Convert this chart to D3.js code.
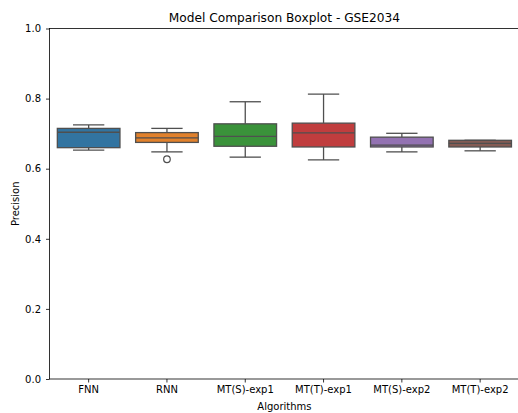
<!DOCTYPE html>
<html>
<head>
<meta charset="utf-8">
<script src="https://cdn.jsdelivr.net/npm/d3@7"></script>
<style>
  body { margin: 0; background: #fff; }
  svg { display: block; font-family: "DejaVu Sans", sans-serif; }
</style>
</head>
<body>
<svg id="chart" width="518" height="413"></svg>
<script>
// Values
const categories = ["FNN", "RNN", "MT(S)-exp1", "MT(T)-exp1", "MT(S)-exp2", "MT(T)-exp2"];
const whiskerLow  = [0.653, 0.648, 0.633, 0.625, 0.648, 0.651];
const q1          = [0.660, 0.675, 0.664, 0.662, 0.662, 0.662];
const medians     = [0.704, 0.688, 0.692, 0.702, 0.667, 0.672];
const q3          = [0.715, 0.703, 0.728, 0.730, 0.690, 0.681];
const whiskerHigh = [0.725, 0.715, 0.791, 0.813, 0.701, 0.681];
const outliers    = [[], [0.627], [], [], [], []];
const colors = ["#3274a1", "#e1812c", "#3a923a", "#c03d3e", "#9372b2", "#845b53"];
const yTicks = [0, 0.2, 0.4, 0.6, 0.8, 1.0];

const width = 518, height = 413;
const margin = { top: 28.5, right: 0, bottom: 34, left: 49.5 };
const lineColor = "#4f4f4f";

const svg = d3.select("#chart");

const x = d3.scaleBand()
  .domain(categories)
  .range([margin.left, margin.left + 6 * 78.3])
  .padding(0);

const y = d3.scaleLinear()
  .domain([0, 1])
  .range([height - margin.bottom, margin.top]);

const boxW = x.bandwidth() * 0.8;
const capW = boxW * 0.5;

// Axes
const xAxis = svg.append("g")
  .attr("transform", `translate(0,${y(0)})`)
  .call(d3.axisBottom(x).tickSize(3.5).tickPadding(3.5));

const yAxis = svg.append("g")
  .attr("transform", `translate(${margin.left},0)`)
  .call(d3.axisLeft(y).tickValues(yTicks).tickFormat(d3.format(".1f")).tickSize(3.5).tickPadding(5));

[xAxis, yAxis].forEach(g => {
  g.select(".domain").remove();
  g.selectAll("text").attr("font-size", "10px").attr("fill", "#000").attr("font-family", "DejaVu Sans");
  g.selectAll("line").attr("stroke", "#000").attr("stroke-width", 0.8);
});

// Spines
const x0 = margin.left, x1 = width + 1;
const yb = y(0), yt = y(1);
svg.append("rect")
  .attr("x", x0).attr("y", yt)
  .attr("width", x1 - x0).attr("height", yb - yt)
  .attr("fill", "none").attr("stroke", "#000").attr("stroke-width", 0.8);

// Boxes
const stats = categories.map((c, i) => ({
  c, lo: whiskerLow[i], q1: q1[i], med: medians[i], q3: q3[i], hi: whiskerHigh[i],
  out: outliers[i], color: colors[i]
}));

const g = svg.append("g");
const box = g.selectAll("g.box").data(stats).enter().append("g")
  .attr("transform", d => `translate(${x(d.c) + x.bandwidth() / 2},0)`);

// whiskers
box.append("line")
  .attr("x1", 0).attr("x2", 0)
  .attr("y1", d => y(d.q3)).attr("y2", d => y(d.hi))
  .attr("stroke", lineColor).attr("stroke-width", 1.3);
box.append("line")
  .attr("x1", 0).attr("x2", 0)
  .attr("y1", d => y(d.q1)).attr("y2", d => y(d.lo))
  .attr("stroke", lineColor).attr("stroke-width", 1.3);
// caps
box.append("line")
  .attr("x1", -capW / 2).attr("x2", capW / 2)
  .attr("y1", d => y(d.hi)).attr("y2", d => y(d.hi))
  .attr("stroke", lineColor).attr("stroke-width", 1.3);
box.append("line")
  .attr("x1", -capW / 2).attr("x2", capW / 2)
  .attr("y1", d => y(d.lo)).attr("y2", d => y(d.lo))
  .attr("stroke", lineColor).attr("stroke-width", 1.3);
// box
box.append("rect")
  .attr("x", -boxW / 2).attr("width", boxW)
  .attr("y", d => y(d.q3)).attr("height", d => y(d.q1) - y(d.q3))
  .attr("fill", d => d.color)
  .attr("stroke", lineColor).attr("stroke-width", 1.3);
// median
box.append("line")
  .attr("x1", -boxW / 2).attr("x2", boxW / 2)
  .attr("y1", d => y(d.med)).attr("y2", d => y(d.med))
  .attr("stroke", lineColor).attr("stroke-width", 1.3);
// outliers
box.selectAll("circle").data(d => d.out).enter().append("circle")
  .attr("cx", 0).attr("cy", v => y(v)).attr("r", 3.3)
  .attr("fill", "none").attr("stroke", lineColor).attr("stroke-width", 1.2);

// Labels
const midX = (margin.left + margin.left + 6 * 78.3) / 2;
svg.append("text")
  .attr("x", midX).attr("y", 22)
  .attr("text-anchor", "middle").attr("font-size", "12.2px").attr("fill", "#000")
  .text("Model Comparison Boxplot - GSE2034");

svg.append("text")
  .attr("x", midX).attr("y", 409.5)
  .attr("text-anchor", "middle").attr("font-size", "10px").attr("fill", "#000")
  .text("Algorithms");

svg.append("text")
  .attr("transform", `translate(18.5,${(yb + yt) / 2}) rotate(-90)`)
  .attr("text-anchor", "middle").attr("font-size", "10px").attr("fill", "#000")
  .text("Precision");
</script>
</body>
</html>
